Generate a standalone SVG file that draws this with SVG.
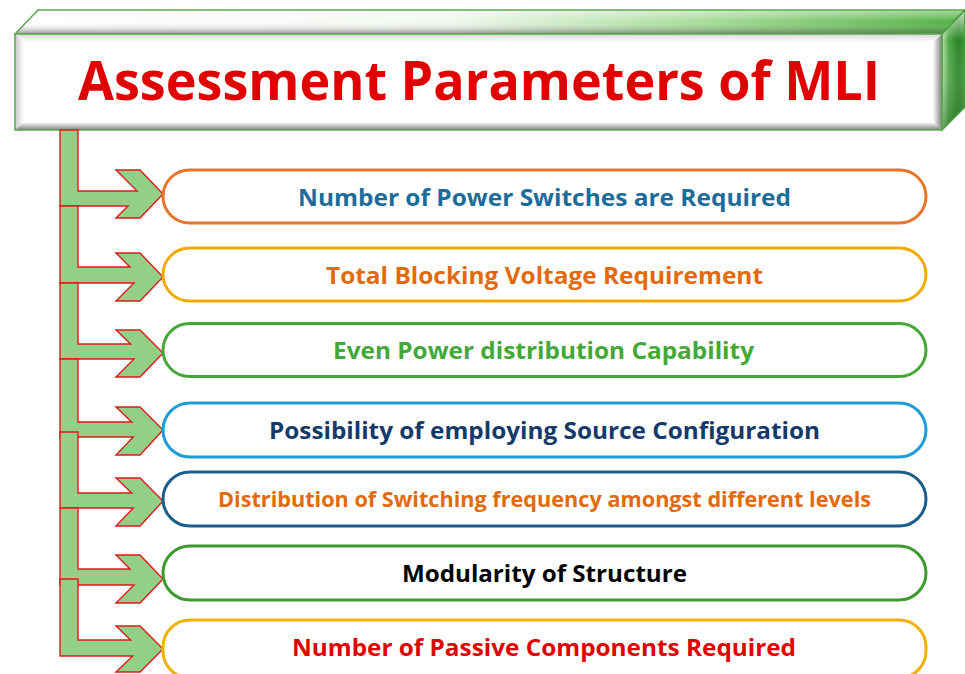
<svg xmlns="http://www.w3.org/2000/svg" width="965" height="674" viewBox="0 0 965 674">
<defs>
<linearGradient id="topFace" x1="0" y1="0" x2="1" y2="0">
<stop offset="0" stop-color="#ffffff"/>
<stop offset="0.45" stop-color="#f2f8f0"/>
<stop offset="0.72" stop-color="#a6dc98"/>
<stop offset="1" stop-color="#4fb03f"/>
</linearGradient>
<linearGradient id="topShade" x1="0" y1="0" x2="0" y2="1">
<stop offset="0" stop-color="#ffffff" stop-opacity="0.5"/>
<stop offset="0.5" stop-color="#ffffff" stop-opacity="0"/>
<stop offset="0.8" stop-color="#707070" stop-opacity="0.25"/>
<stop offset="1" stop-color="#505050" stop-opacity="0.6"/>
</linearGradient>
<linearGradient id="rightFace" x1="0" y1="0" x2="1" y2="0">
<stop offset="0" stop-color="#b8e2ae"/>
<stop offset="0.3" stop-color="#4ca842"/>
<stop offset="0.7" stop-color="#2a8326"/>
<stop offset="1" stop-color="#36922f"/>
</linearGradient>
<linearGradient id="rightShade" x1="0" y1="0" x2="0" y2="1">
<stop offset="0" stop-color="#ffffff" stop-opacity="0.75"/>
<stop offset="0.25" stop-color="#ffffff" stop-opacity="0"/>
<stop offset="1" stop-color="#155c15" stop-opacity="0.45"/>
</linearGradient>
<linearGradient id="bevL" x1="0" y1="0" x2="1" y2="0">
<stop offset="0" stop-color="#c8c8c8"/>
<stop offset="1" stop-color="#ffffff"/>
</linearGradient>
<linearGradient id="bevR" x1="1" y1="0" x2="0" y2="0">
<stop offset="0" stop-color="#7e7e7e"/>
<stop offset="1" stop-color="#ffffff"/>
</linearGradient>
<linearGradient id="bevT" x1="0" y1="0" x2="0" y2="1">
<stop offset="0" stop-color="#d8d8d8"/>
<stop offset="1" stop-color="#ffffff"/>
</linearGradient>
<linearGradient id="bevB" x1="0" y1="1" x2="0" y2="0">
<stop offset="0" stop-color="#808080"/>
<stop offset="1" stop-color="#ffffff"/>
</linearGradient>
</defs>
<style>
.arrow { fill: #93cf87; stroke: #e01a1a; stroke-width: 1.4; stroke-linejoin: miter; }
.node { fill: #ffffff; stroke-width: 3; }
.lbl { font-family: "Open Sans", "Noto Sans", "Liberation Sans", sans-serif; font-weight: bold; font-size: 24px; text-anchor: middle; }
.title { font-family: "Open Sans", "Noto Sans", "Liberation Sans", sans-serif; font-weight: bold; font-size: 54px; fill: #e00000; text-anchor: middle; }
</style>
<rect width="965" height="674" fill="#ffffff"/>

<g id="title-node">
<polygon points="15,34 38,10 965,10 942,34" fill="url(#topFace)"/>
<polygon points="15,34 38,10 965,10 942,34" fill="url(#topShade)" stroke="#5aa84e" stroke-width="1.5"/>
<polygon points="942,34 965,10 965,107 942,130" fill="url(#rightFace)"/>
<polygon points="942,34 965,10 965,107 942,130" fill="url(#rightShade)" stroke="#4a9a40" stroke-width="1.5"/>
<rect x="15" y="34" width="927" height="96" fill="#ffffff"/>
<polygon points="15,34 24,42 24,122 15,130" fill="url(#bevL)"/>
<polygon points="942,34 933,42 933,122 942,130" fill="url(#bevR)"/>
<polygon points="15,34 942,34 933,42 24,42" fill="url(#bevT)"/>
<polygon points="15,130 942,130 933,122 24,122" fill="url(#bevB)"/>
<rect x="15" y="34" width="927" height="96" fill="none" stroke="#5aa84e" stroke-width="1.5"/>
<text class="title" x="479" y="100" textLength="802" lengthAdjust="spacingAndGlyphs">Assessment Parameters of MLI</text>
</g>

<g id="connectors">
<polygon class="arrow" points="60,130 78,130 78,191 137,191 116,170 140,170 163,194 140,218 116,218 128,206 60,206"/>
<polygon class="arrow" points="60,206 78,206 78,267 130,267 116,253 140,253 163,277 140,301 116,301 134,283 60,283"/>
<polygon class="arrow" points="60,283 78,283 78,344 130.6,344 116,330 140,330 163,353 140,377 116,377 134,359 60,359"/>
<polygon class="arrow" points="60,359 78,359 78,422 131.7,422 116,407 140,407 163,430 140,455 116,455 133.3,437 60,437"/>
<polygon class="arrow" points="60,432 78,432 78,493 131.7,493 116,478 140,478 163,501 140,526 116,526 133.3,508 60,508"/>
<polygon class="arrow" points="60,508 78,508 78,569 130,569 116,555 140,555 163,579 140,603 116,603 134,585 60,585"/>
<polygon class="arrow" points="60,579 78,579 78,640 130.6,640 116,626 140,626 163,649 140,672 116,672 132.7,656 60,656"/>
</g>

<g id="n1">
<rect class="node" x="163" y="170" width="763" height="53" rx="26.5" stroke="#e8742a"/>
<text class="lbl" x="544.5" y="205.5" textLength="493" lengthAdjust="spacingAndGlyphs" fill="#1a6c9c">Number of Power Switches are Required</text>
</g>
<g id="n2">
<rect class="node" x="163" y="248" width="763" height="53" rx="26.5" stroke="#f2ab00"/>
<text class="lbl" x="544.5" y="284" textLength="437" lengthAdjust="spacingAndGlyphs" fill="#e36a0c">Total Blocking Voltage Requirement</text>
</g>
<g id="n3">
<rect class="node" x="163" y="323.5" width="763" height="53" rx="26.5" stroke="#44a836"/>
<text class="lbl" x="543.5" y="359" textLength="421" lengthAdjust="spacingAndGlyphs" fill="#44a836">Even Power distribution Capability</text>
</g>
<g id="n4">
<rect class="node" x="163" y="403" width="763" height="54" rx="27" stroke="#1f9dd8"/>
<text class="lbl" x="544.5" y="438.5" textLength="551" lengthAdjust="spacingAndGlyphs" fill="#153a6a">Possibility of employing Source Configuration</text>
</g>
<g id="n5">
<rect class="node" x="163" y="472" width="763" height="54" rx="27" stroke="#1b5e8a"/>
<text class="lbl" x="544.5" y="506.5" textLength="653" lengthAdjust="spacingAndGlyphs" fill="#e36a0c" style="font-size:22px">Distribution of Switching frequency amongst different levels</text>
</g>
<g id="n6">
<rect class="node" x="163" y="546" width="763" height="54" rx="27" stroke="#3c9a2e"/>
<text class="lbl" x="544.5" y="582" textLength="285" lengthAdjust="spacingAndGlyphs" fill="#000000">Modularity of Structure</text>
</g>
<g id="n7">
<rect class="node" x="163" y="620" width="763" height="58" rx="27" stroke="#f2b000"/>
<text class="lbl" x="544" y="656" textLength="504" lengthAdjust="spacingAndGlyphs" fill="#e00000">Number of Passive Components Required</text>
</g>
</svg>
